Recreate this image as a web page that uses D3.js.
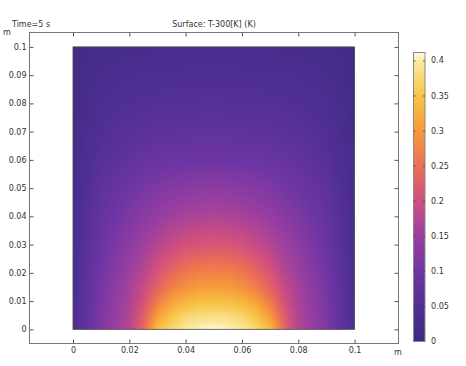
<!DOCTYPE html>
<meta charset="utf-8">
<style type="text/css">
body { margin: 0; background: #fff; }
text { font-family: "DejaVu Sans", sans-serif; font-size: 8px; fill: #333; }
.axis line { stroke: #555; }
.axis .domain { display: none; }
.frame { fill: none; stroke: #777; stroke-width: 1; }
</style>
<body>
</body>
<script src="https://d3js.org/d3.v7.min.js"></script>
<script>

var xGrid = [0, 0.01, 0.02, 0.025, 0.03, 0.035, 0.04, 0.045, 0.05, 0.055, 0.06, 0.065, 0.07, 0.075, 0.08, 0.09, 0.1];
var yGrid = [0, 0.005, 0.01, 0.015, 0.02, 0.03, 0.04, 0.05, 0.06, 0.07, 0.08, 0.09, 0.1];

// one row per yGrid value, one column per xGrid value
var tempRows = [
  [0.040, 0.120, 0.175, 0.240, 0.345, 0.378, 0.400, 0.409, 0.412, 0.409, 0.400, 0.378, 0.345, 0.240, 0.175, 0.120, 0.040],
  [0.040, 0.118, 0.172, 0.225, 0.305, 0.350, 0.372, 0.382, 0.385, 0.382, 0.372, 0.350, 0.305, 0.225, 0.172, 0.118, 0.040],
  [0.038, 0.114, 0.166, 0.205, 0.265, 0.308, 0.333, 0.342, 0.345, 0.342, 0.333, 0.308, 0.265, 0.205, 0.166, 0.114, 0.038],
  [0.037, 0.110, 0.160, 0.192, 0.235, 0.270, 0.292, 0.302, 0.305, 0.302, 0.292, 0.270, 0.235, 0.192, 0.160, 0.110, 0.037],
  [0.036, 0.105, 0.152, 0.178, 0.212, 0.240, 0.262, 0.272, 0.275, 0.272, 0.262, 0.240, 0.212, 0.178, 0.152, 0.105, 0.036],
  [0.034, 0.095, 0.136, 0.155, 0.175, 0.192, 0.205, 0.212, 0.215, 0.212, 0.205, 0.192, 0.175, 0.155, 0.136, 0.095, 0.034],
  [0.031, 0.085, 0.118, 0.132, 0.145, 0.155, 0.163, 0.168, 0.170, 0.168, 0.163, 0.155, 0.145, 0.132, 0.118, 0.085, 0.031],
  [0.028, 0.073, 0.100, 0.110, 0.119, 0.126, 0.131, 0.134, 0.135, 0.134, 0.131, 0.126, 0.119, 0.110, 0.100, 0.073, 0.028],
  [0.025, 0.060, 0.079, 0.086, 0.092, 0.096, 0.098, 0.100, 0.100, 0.100, 0.098, 0.096, 0.092, 0.086, 0.079, 0.060, 0.025],
  [0.022, 0.049, 0.062, 0.066, 0.070, 0.072, 0.074, 0.075, 0.075, 0.075, 0.074, 0.072, 0.070, 0.066, 0.062, 0.049, 0.022],
  [0.019, 0.040, 0.049, 0.052, 0.054, 0.055, 0.056, 0.057, 0.057, 0.057, 0.056, 0.055, 0.054, 0.052, 0.049, 0.040, 0.019],
  [0.016, 0.032, 0.038, 0.040, 0.041, 0.041, 0.042, 0.042, 0.042, 0.042, 0.042, 0.041, 0.041, 0.040, 0.038, 0.032, 0.016],
  [0.012, 0.024, 0.028, 0.029, 0.030, 0.030, 0.030, 0.030, 0.030, 0.030, 0.030, 0.030, 0.030, 0.029, 0.028, 0.024, 0.012]
];

var xTicks = [0, 0.02, 0.04, 0.06, 0.08, 0.1];
var yTicks = [0, 0.01, 0.02, 0.03, 0.04, 0.05, 0.06, 0.07, 0.08, 0.09, 0.1];
var cbTicks = [0, 0.05, 0.1, 0.15, 0.2, 0.25, 0.3, 0.35, 0.4];
var cbMax = 0.412;

// colour table (value -> colour)
var cmapStops = [0, 0.05, 0.1, 0.15, 0.2, 0.25, 0.3, 0.35, 0.4, 0.412];
var cmapColors = ["#3b2a80", "#512f96", "#6e35a4", "#9a3fa0", "#cf4f80", "#ec6f55", "#f69a3a", "#f7c446", "#fbeaa0", "#fffbe4"];

var width = 466, height = 366;
var frame = {left: 29.5, right: 398.5, top: 32.5, bottom: 343.5};

var x = d3.scaleLinear().domain([-0.01545, 0.1156]).range([frame.left, frame.right]);
var y = d3.scaleLinear().domain([-0.00502, 0.1051]).range([frame.bottom, frame.top]);
var color = d3.scaleLinear().domain(cmapStops).range(cmapColors).clamp(true);

var svg = d3.select("body").append("svg")
    .attr("width", width)
    .attr("height", height);

// bilinear lookup in the read grid
function lookup(px, py) {
  var i = Math.min(Math.max(d3.bisectRight(xGrid, px) - 1, 0), xGrid.length - 2);
  var j = Math.min(Math.max(d3.bisectRight(yGrid, py) - 1, 0), yGrid.length - 2);
  var tx = (px - xGrid[i]) / (xGrid[i + 1] - xGrid[i]);
  var ty = (py - yGrid[j]) / (yGrid[j + 1] - yGrid[j]);
  tx = Math.min(Math.max(tx, 0), 1); ty = Math.min(Math.max(ty, 0), 1);
  var a = tempRows[j][i], b = tempRows[j][i + 1], c = tempRows[j + 1][i], d = tempRows[j + 1][i + 1];
  return (a * (1 - tx) + b * tx) * (1 - ty) + (c * (1 - tx) + d * tx) * ty;
}

// paint the surface into a canvas, then put it in the svg as an image
var x0 = x(0), x1 = x(0.1), y0 = y(0.1), y1 = y(0);
var cw = Math.round(x1 - x0), ch = Math.round(y1 - y0);
var canvas = document.createElement("canvas");
canvas.width = cw; canvas.height = ch;
var ctx = canvas.getContext("2d");
var img = ctx.createImageData(cw, ch);
for (var r = 0; r < ch; r++) {
  for (var k = 0; k < cw; k++) {
    var v = lookup(x.invert(x0 + k + 0.5), y.invert(y0 + r + 0.5));
    var col = d3.rgb(color(v));
    var p = (r * cw + k) * 4;
    img.data[p] = col.r; img.data[p + 1] = col.g; img.data[p + 2] = col.b; img.data[p + 3] = 255;
  }
}
ctx.putImageData(img, 0, 0);

svg.append("image")
    .attr("x", x0).attr("y", y0)
    .attr("width", x1 - x0).attr("height", y1 - y0)
    .attr("preserveAspectRatio", "none")
    .attr("href", canvas.toDataURL());

svg.append("rect")
    .attr("x", x0).attr("y", y0)
    .attr("width", x1 - x0).attr("height", y1 - y0)
    .attr("fill", "none").attr("stroke", "#444").attr("stroke-width", 0.8);

// axes, ticks pointing inwards on all four sides
svg.append("g").attr("class", "axis")
    .attr("transform", "translate(0," + frame.bottom + ")")
    .call(d3.axisBottom(x).tickValues(xTicks).tickSizeInner(-4).tickSizeOuter(0).tickPadding(4).tickFormat(d3.format("")));
svg.append("g").attr("class", "axis")
    .attr("transform", "translate(0," + frame.top + ")")
    .call(d3.axisTop(x).tickValues(xTicks).tickSizeInner(-4).tickSizeOuter(0).tickFormat(""));
svg.append("g").attr("class", "axis")
    .attr("transform", "translate(" + frame.left + ",0)")
    .call(d3.axisLeft(y).tickValues(yTicks).tickSizeInner(-4).tickSizeOuter(0).tickPadding(3).tickFormat(d3.format("")));
svg.append("g").attr("class", "axis")
    .attr("transform", "translate(" + frame.right + ",0)")
    .call(d3.axisRight(y).tickValues(yTicks).tickSizeInner(-4).tickSizeOuter(0).tickFormat(""));

svg.selectAll(".axis text").style("font-family", "DejaVu Sans").style("font-size", "8px").attr("fill", "#333");

svg.append("rect").attr("class", "frame")
    .attr("x", frame.left).attr("y", frame.top)
    .attr("width", frame.right - frame.left).attr("height", frame.bottom - frame.top);

// unit labels
svg.append("text").attr("x", 3).attr("y", 35).text("m");
svg.append("text").attr("x", 394).attr("y", 355).text("m");

// titles
svg.append("text").attr("x", 12).attr("y", 27).text("Time=5 s");
svg.append("text").attr("x", 214).attr("y", 27).attr("text-anchor", "middle").text("Surface: T-300[K] (K)");

// colour bar
var cb = {left: 413.5, right: 425, top: 52.5, bottom: 341.5};
var cy = d3.scaleLinear().domain([0, cbMax]).range([cb.bottom, cb.top]);

var grad = svg.append("defs").append("linearGradient")
    .attr("id", "cbgrad")
    .attr("x1", 0).attr("y1", 1).attr("x2", 0).attr("y2", 0);
grad.selectAll("stop")
    .data(cmapStops)
  .enter().append("stop")
    .attr("offset", function(d) { return d / cbMax; })
    .attr("stop-color", function(d, i) { return cmapColors[i]; });

svg.append("rect")
    .attr("x", cb.left).attr("y", cb.top)
    .attr("width", cb.right - cb.left).attr("height", cb.bottom - cb.top)
    .attr("fill", "url(#cbgrad)")
    .attr("stroke", "#888").attr("stroke-width", 1);

var cbt = svg.append("g").selectAll("g")
    .data(cbTicks)
  .enter().append("g")
    .attr("transform", function(d) { return "translate(0," + cy(d) + ")"; });
cbt.filter(function(d) { return d > 0; }).append("line")
    .attr("x1", cb.left).attr("x2", cb.left + 2).attr("stroke", "#444").attr("stroke-width", 0.8);
cbt.filter(function(d) { return d > 0; }).append("line")
    .attr("x1", cb.right - 2).attr("x2", cb.right).attr("stroke", "#444").attr("stroke-width", 0.8);
cbt.append("text")
    .attr("x", 431).attr("dy", "0.32em")
    .text(function(d) { return d; });

</script>
